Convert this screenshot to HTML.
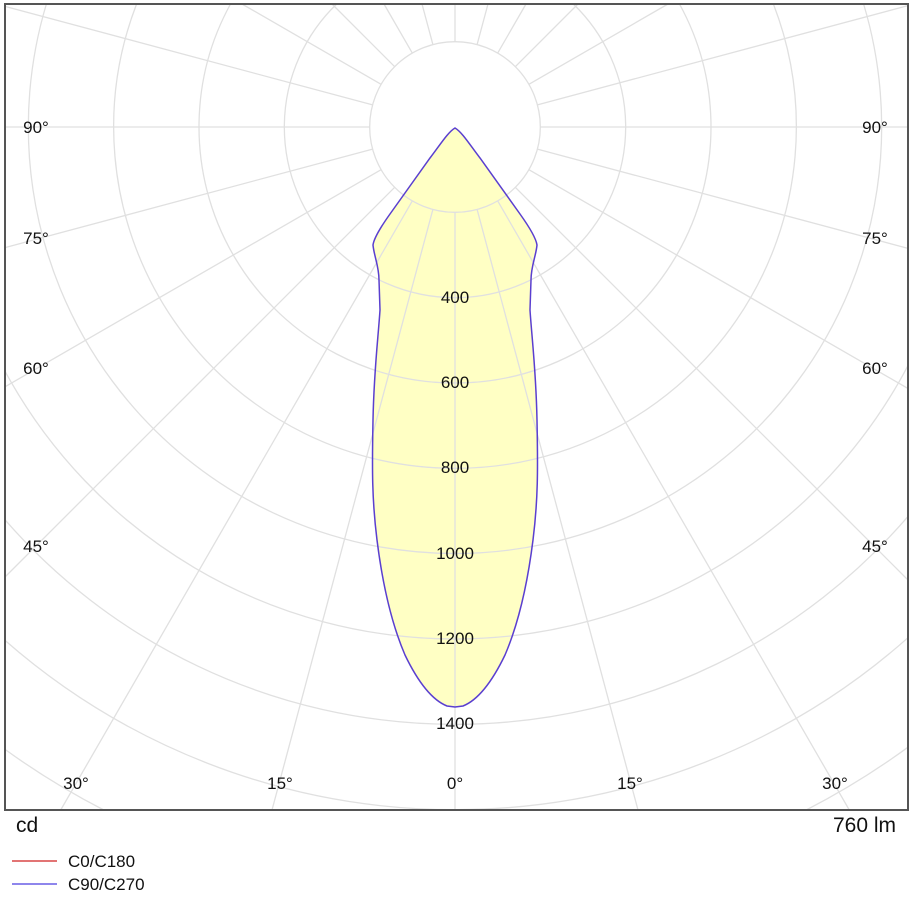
<!DOCTYPE html>
<html style="margin:0;overflow:hidden;width:910px;height:900px"><head><meta charset="utf-8"><style>
body{margin:0;background:#fff;width:910px;height:900px;overflow:hidden}
svg{display:block;font-family:"Liberation Sans","DejaVu Sans",sans-serif}
</style></head><body>
<svg width="910" height="900" viewBox="0 0 910 900">
<path d="M455,128 C448,132 440,145 430,158 L390,214 C380,228 374,238 373,245 C374,256 379,266 379,280 L380,310 C378,340 374,370 373,420 C372,470 372,500 377,540 C382,580 390,620 405,655 C418,682 432,700 447,706 L455,707 L463,706 C478,700 492,682 505,655 C520,620 528,580 533,540 C538,500 538,470 537,420 C536,370 532,340 530,310 L531,280 C531,266 536,256 537,245 C536,238 530,228 520,214 L480,158 C470,145 462,132 455,128 Z" fill="#ffffc4"/>
<g fill="none" stroke="#e0e0e0" stroke-width="1.3">
<circle cx="455" cy="127" r="85.33"/>
<path d="M336.7,4 A170.67,170.67 0 1 0 573.3,4"/>
<path d="M230.5,4 A256,256 0 1 0 679.5,4"/>
<path d="M136.6,4 A341.33,341.33 0 1 0 773.4,4"/>
<path d="M46.4,4 A426.67,426.67 0 1 0 863.6,4"/>
<path d="M5,371.2 A512,512 0 0 0 908,365.6"/>
<path d="M5,519.8 A597.33,597.33 0 0 0 908,516.4"/>
<path d="M5,640.4 A682.67,682.67 0 0 0 908,637.7"/>
<path d="M5,749.4 A768,768 0 0 0 103.8,810"/>
<path d="M806.2,810 A768,768 0 0 0 908,747.2"/>
<path d="M455,212.3 L455,810"/>
<path d="M477.1,209.4 L638,810 M432.9,209.4 L272,810"/>
<path d="M497.7,200.9 L849.3,810 M412.3,200.9 L60.7,810"/>
<path d="M515.3,187.3 L908,580 M394.7,187.3 L5,577"/>
<path d="M528.9,169.7 L908,388.5 M381.1,169.7 L5,386.8"/>
<path d="M537.4,149.1 L908,248.4 M372.6,149.1 L5,247.6"/>
<path d="M540.3,127 L908,127 M369.7,127 L5,127"/>
<path d="M537.4,104.9 L908,5.6 M372.6,104.9 L5,6.4"/>
<path d="M528.9,84.3 L668,4 M381.1,84.3 L242,4"/>
<path d="M515.3,66.7 L578,4 M394.7,66.7 L332,4"/>
<path d="M497.7,53.1 L526,4 M412.3,53.1 L384,4"/>
<path d="M477.1,44.6 L488,4 M432.9,44.6 L422,4"/>
<path d="M455,41.7 L455,4"/>
</g>
<path d="M455,128 C448,132 440,145 430,158 L390,214 C380,228 374,238 373,245 C374,256 379,266 379,280 L380,310 C378,340 374,370 373,420 C372,470 372,500 377,540 C382,580 390,620 405,655 C418,682 432,700 447,706 L455,707 L463,706 C478,700 492,682 505,655 C520,620 528,580 533,540 C538,500 538,470 537,420 C536,370 532,340 530,310 L531,280 C531,266 536,256 537,245 C536,238 530,228 520,214 L480,158 C470,145 462,132 455,128 Z" fill="none" stroke="#5a3fd0" stroke-width="1.5"/>
<rect x="5" y="4" width="903" height="806" fill="none" stroke="#555" stroke-width="2"/>
<g font-size="17" fill="#111" text-anchor="middle">
<text x="455" y="303">400</text><text x="455" y="388">600</text><text x="455" y="473">800</text>
<text x="455" y="559">1000</text><text x="455" y="644">1200</text><text x="455" y="729">1400</text>
<text x="76" y="789">30°</text><text x="280" y="789">15°</text><text x="455" y="789">0°</text><text x="630" y="789">15°</text><text x="835" y="789">30°</text>
<text x="36" y="552">45°</text><text x="36" y="374">60°</text><text x="36" y="244">75°</text><text x="36" y="133">90°</text>
<text x="875" y="552">45°</text><text x="875" y="374">60°</text><text x="875" y="244">75°</text><text x="875" y="133">90°</text>
</g>
<text x="16" y="832" font-size="21" fill="#111">cd</text>
<text x="896" y="832" font-size="21" fill="#111" text-anchor="end">760 lm</text>
<line x1="12" y1="861" x2="57" y2="861" stroke="#d02020" stroke-width="1.2"/>
<line x1="12" y1="884" x2="57" y2="884" stroke="#4a3fe0" stroke-width="1.2"/>
<text x="68" y="867" font-size="17" fill="#111">C0/C180</text>
<text x="68" y="890" font-size="17" fill="#111">C90/C270</text>
</svg>
</body></html>
